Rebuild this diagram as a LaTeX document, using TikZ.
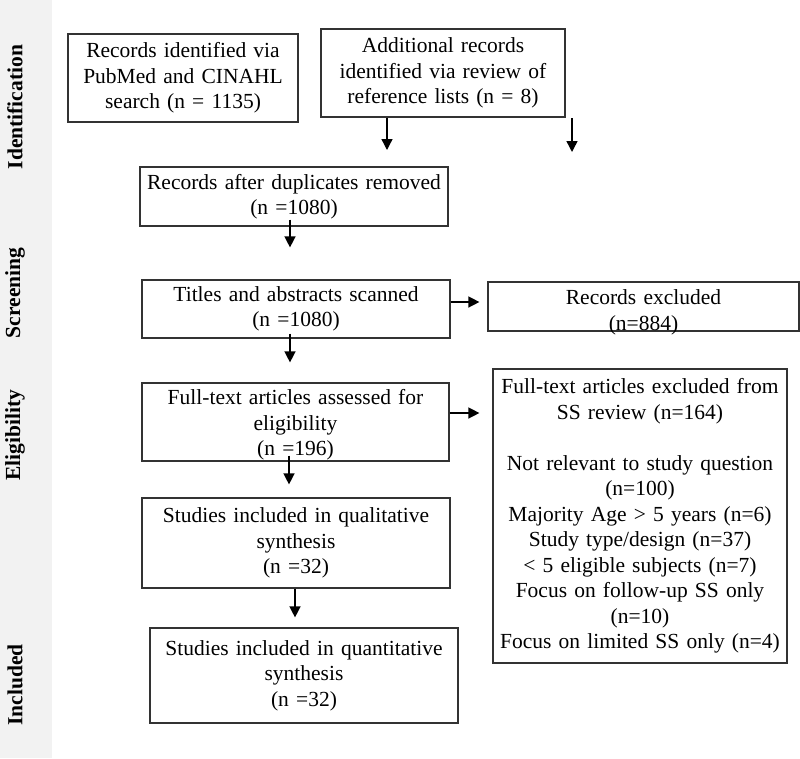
\documentclass[tikz,border=0pt]{standalone}
\usepackage{fontspec}
\setmainfont{Liberation Serif}
\usetikzlibrary{arrows.meta}
\begin{document}
\begin{tikzpicture}[x=1pt,y=-1pt,inner sep=0,
	box/.style={draw=black!80,line width=1.2pt,align=center,font=\fontsize{21.5}{25.5}\selectfont},
	stage/.style={rotate=90,font=\bfseries\fontsize{21.5}{25}\selectfont},
	arr/.style={-{Triangle[length=11pt,width=11pt]},line width=1.4pt}]
		\useasboundingbox (0,0) rectangle (800,758);
		\fill[black!5] (0,0) rectangle (52,758);
		% stage labels
		\node[stage] (ident) at (15,107) {Identification};
		\node[stage] (screen) at (15,293) {Screening};
		\node[stage] (elig) at (15,435) {Eligibility};
		\node[stage] (incl) at (15,685) {Included};
		% boxes
		\node[box,text width=230pt,minimum height=88pt] (search) at (183,78) {Records identified via\\PubMed and CINAHL\\search (n = 1135)};
		\node[box,text width=244pt,minimum height=88pt] (extra) at (443,73) {Additional records\\identified via review of\\reference lists (n = 8)};
		\node[box,text width=308pt,minimum height=59pt] (dup) at (294,196.5) {Records after duplicates removed\\(n =1080)};
		\node[box,text width=308pt,minimum height=58pt] (scan) at (296,309) {Titles and abstracts scanned\\(n =1080)};
		\node[box,text width=311pt,minimum height=49pt,text depth=18pt] (excl) at (643.5,306.5) {Records excluded\\(n=884)};
		\node[box,text width=307pt,minimum height=78pt,text depth=50pt] (full) at (295.5,422) {Full-text articles assessed for\\eligibility\\(n =196)};
		\node[box,text width=294pt,minimum height=294pt] (fullexcl) at (640,516) {Full-text articles excluded from\\SS review (n=164)\\[25.5pt]Not relevant to study question\\(n=100)\\Majority Age > 5 years (n=6)\\Study type/design (n=37)\\< 5 eligible subjects (n=7)\\Focus on follow-up SS only\\(n=10)\\Focus on limited SS only (n=4)};
		\node[box,text width=308pt,minimum height=90pt] (qual) at (296,543) {Studies included in qualitative\\synthesis\\(n =32)};
		\node[box,text width=308pt,minimum height=95pt] (quant) at (304,675.5) {Studies included in quantitative\\synthesis\\(n =32)};
		% arrows
		\coordinate (extraEnd) at (387,150);
		\coordinate (strayTop) at (572,118);
		\coordinate (strayEnd) at (572,152);
		\draw[arr] (extra.south -| extraEnd) -- (extraEnd);
		\draw[arr] (strayTop) -- (strayEnd);
		\draw[arr,shorten <=-7pt,shorten >=32pt] ([xshift=-4pt]dup.south) -- ([xshift=-4pt]dup.south |- scan.north);
		\draw[arr,shorten <=-5pt,shorten >=20pt] ([xshift=-6pt]scan.south) -- ([xshift=-6pt]scan.south |- full.north);
		\draw[arr,shorten <=-6pt,shorten >=13pt] ([xshift=-6.5pt]full.south) -- ([xshift=-6.5pt]full.south |- qual.north);
		\draw[arr,shorten >=10pt] ([xshift=-1pt]qual.south) -- ([xshift=-1pt]qual.south |- quant.north);
		\draw[arr,shorten >=8pt] ([yshift=7pt]scan.east) -- ([yshift=7pt]scan.east -| excl.west);
		\draw[arr,shorten >=13pt] ([yshift=9pt]full.east) -- ([yshift=9pt]full.east -| fullexcl.west);
	\end{tikzpicture}
\end{document}
